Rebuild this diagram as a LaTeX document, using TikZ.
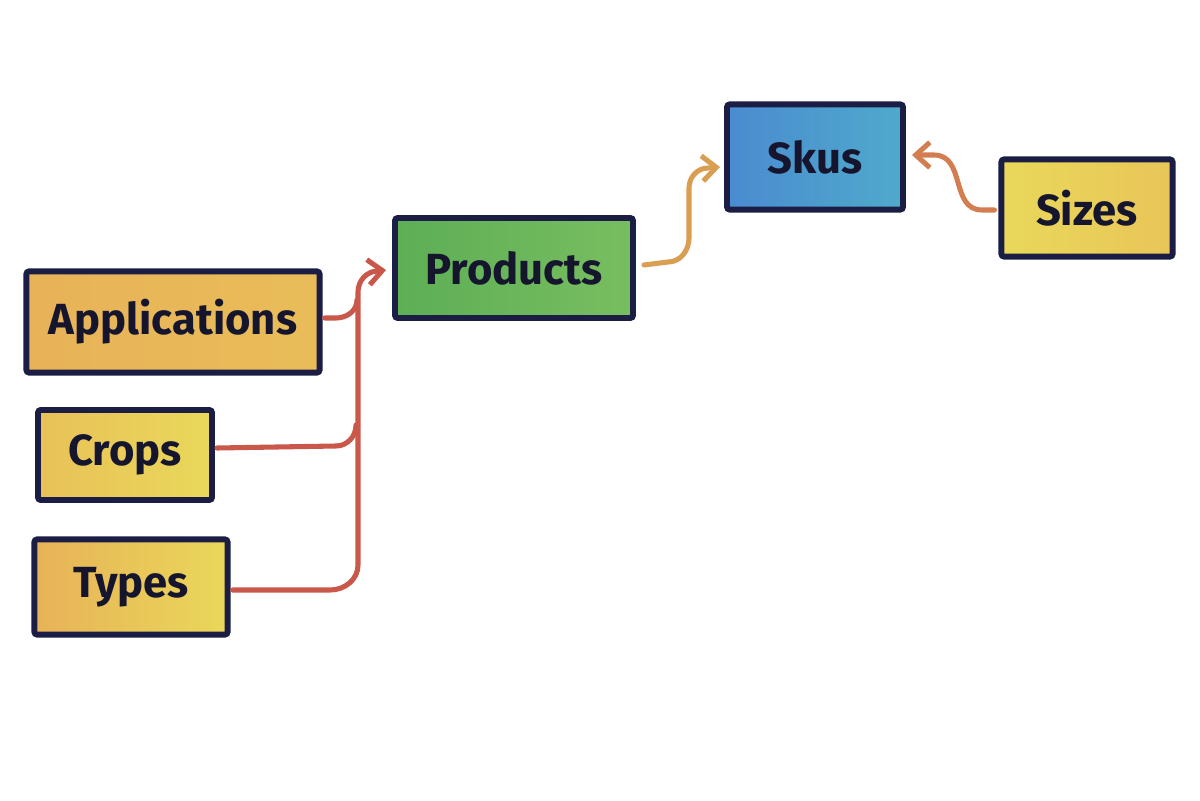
\documentclass[tikz,border=0pt]{standalone}
\usepackage{fontspec}
\setmainfont{Fira Sans}
\usetikzlibrary{arrows.meta,calc}
\definecolor{navy}{HTML}{1B1D45}
\definecolor{redline}{HTML}{C9584A}
\definecolor{orangeline}{HTML}{D99E52}
\definecolor{sizeline}{HTML}{D27E50}
\definecolor{ylw}{HTML}{E9D85A}
\definecolor{org}{HTML}{E8B258}
\definecolor{grn}{HTML}{5DAE55}
\definecolor{grnl}{HTML}{78BE60}
\definecolor{blu}{HTML}{4A8BD0}
\definecolor{blul}{HTML}{4FAACB}
\definecolor{ink}{HTML}{15152E}
\tikzset{
  box/.style={draw=navy, line width=4.2pt, rounded corners=2pt, inner sep=0pt,
    font=\fontsize{31}{34}\selectfont\bfseries, text=ink},
  conn/.style={line width=3.6pt, line cap=round, line join=round},
  tip/.style={-{Straight Barb[length=10pt,width=18pt,line width=3.6pt]}}
}
\begin{document}
\begin{tikzpicture}[x=0.025cm,y=-0.025cm]
\useasboundingbox (0,0) rectangle (1200,800);
\node[box, left color=org, right color=org!70!ylw, minimum width=7.33cm, minimum height=2.53cm] (apps) at (173,322) {Applications};
\node[box, left color=org!60!ylw, right color=ylw, minimum width=4.35cm, minimum height=2.25cm] (crops) at (125,455) {Crops};
\node[box, left color=org, right color=ylw, minimum width=4.83cm, minimum height=2.38cm] (types) at (131,587) {Types};
\node[box, left color=grn, right color=grnl, minimum width=5.95cm, minimum height=2.5cm] (prod) at (514,268) {Products};
\node[box, left color=blu, right color=blul, minimum width=4.4cm, minimum height=2.63cm] (skus) at (815,157) {Skus};
\node[box, left color=ylw, right color=org!50!ylw, minimum width=4.28cm, minimum height=2.43cm] (sizes) at (1087,208) {Sizes};
% red connectors
\draw[conn, redline] (apps.east) ++(2,-4) -- (336,318) to[out=0,in=-90] (357,300);
\draw[conn, redline] (crops.east) ++(2,-7) -- (336,446) to[out=0,in=-90] (356,425);
\draw[conn, redline, tip] (types.east) ++(2,3) -- (330,590) to[out=0,in=-90] (358,565) -- (358,292) to[out=90,in=180] (378,271) -- ($(prod.west)+(-6,2)$);
% products -> skus
\draw[conn, orangeline, tip] (prod.east) ++(8,-3) -- (668,262) to[out=0,in=-90] (689,238) -- (689,188) to[out=90,in=180] (708,168) -- ($(skus.west)+(-4,10)$);
% sizes -> skus
\draw[conn, sizeline, tip] (sizes.west) ++(-4,2) -- (982,210) .. controls (950,210) and (966,155) .. (934,155) -- ($(skus.east)+(6,-2)$);
\end{tikzpicture}
\end{document}
